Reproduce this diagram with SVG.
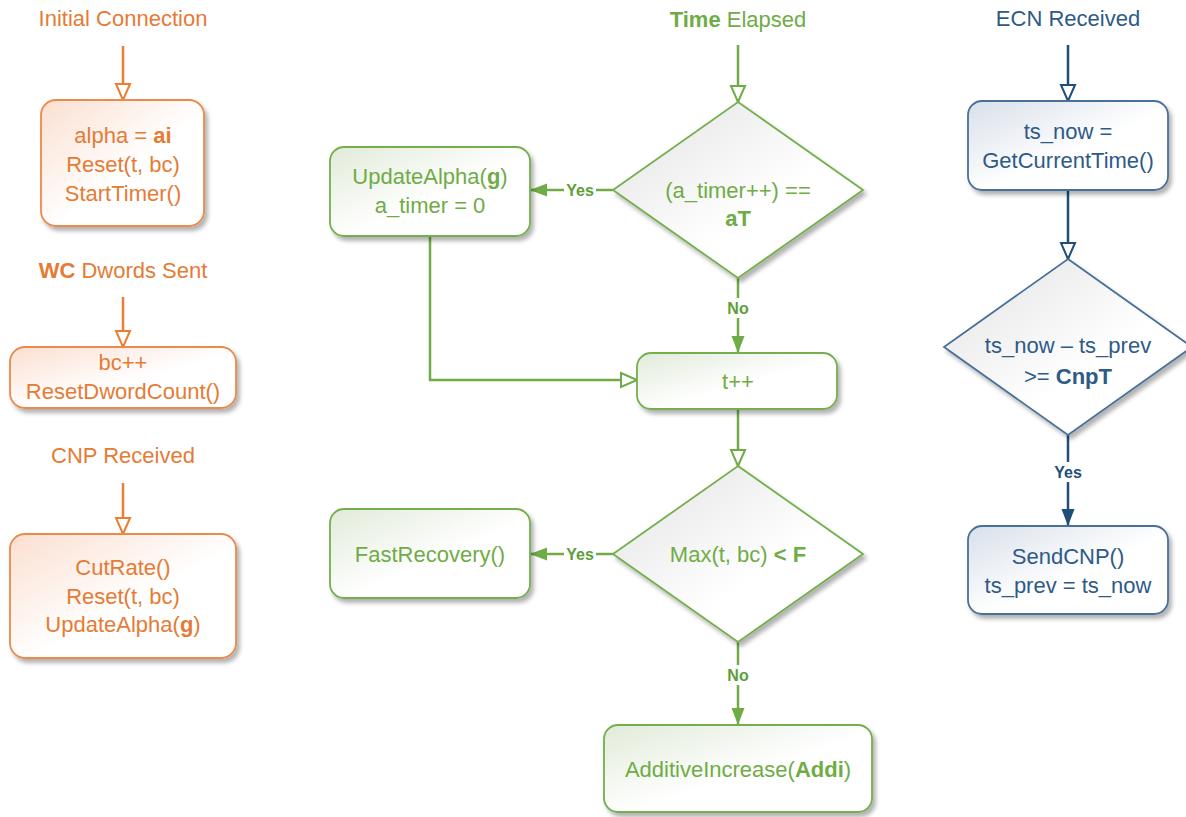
<svg xmlns="http://www.w3.org/2000/svg" width="1186" height="817" viewBox="0 0 1186 817">
  <style>
    text { font-family: "Liberation Sans", Arial, sans-serif; font-size: 22px; text-anchor: middle; }
    .b { font-weight: bold; }
    .lbl { font-size: 16px; font-weight: bold; }
    .or { fill: #E57B35; }
    .gr { fill: #6FAC46; }
    .gl { fill: #5E9E3A; }
    .bl { fill: #2E5A88; }
    .bll { fill: #1F4E79; }
    .box-or { fill: url(#gOr); stroke: #EA8A4E; stroke-width: 1.8; filter: url(#sh); }
    .box-gr { fill: url(#gGr); stroke: #74AE4E; stroke-width: 1.8; filter: url(#sh); }
    .box-bl { fill: url(#gBl); stroke: #4A6F98; stroke-width: 1.8; filter: url(#sh); }
    .dia-gr { fill: url(#gDia); stroke: #74AE4E; stroke-width: 1.8; filter: url(#sh); }
    .dia-bl { fill: url(#gDia); stroke: #4A6F98; stroke-width: 1.8; filter: url(#sh); }
    .ln { fill: none; stroke-width: 2.5; }
    .c-or { stroke: #ED7D31; }
    .c-gr { stroke: #6FAC46; }
    .c-bl { stroke: #1F4E79; }
  </style>
  <defs>
    <linearGradient id="gOr" x1="0" y1="0" x2="1" y2="1">
      <stop offset="0" stop-color="#FBDFD0"/>
      <stop offset="0.55" stop-color="#FFFFFF"/>
      <stop offset="1" stop-color="#FFFFFF"/>
    </linearGradient>
    <linearGradient id="gGr" x1="0" y1="0" x2="1" y2="1">
      <stop offset="0" stop-color="#E1EBD9"/>
      <stop offset="0.55" stop-color="#FFFFFF"/>
      <stop offset="1" stop-color="#FFFFFF"/>
    </linearGradient>
    <linearGradient id="gBl" x1="0" y1="0" x2="1" y2="1">
      <stop offset="0" stop-color="#D8E0EA"/>
      <stop offset="0.55" stop-color="#FFFFFF"/>
      <stop offset="1" stop-color="#FFFFFF"/>
    </linearGradient>
    <linearGradient id="gDia" x1="0" y1="0" x2="1" y2="1">
      <stop offset="0" stop-color="#E2E2E2"/>
      <stop offset="0.6" stop-color="#FFFFFF"/>
      <stop offset="1" stop-color="#FFFFFF"/>
    </linearGradient>
    <filter id="sh" x="-10%" y="-10%" width="125%" height="130%">
      <feDropShadow dx="3" dy="4" stdDeviation="2" flood-color="#000" flood-opacity="0.3"/>
    </filter>
    <!-- hollow heads -->
    <marker id="hOr" markerUnits="userSpaceOnUse" markerWidth="20" markerHeight="20" viewBox="0 0 20 20" refX="18" refY="10" orient="auto">
      <path d="M2,3 L18,10 L2,17 Z" fill="#fff" stroke="#ED7D31" stroke-width="2"/>
    </marker>
    <marker id="hGr" markerUnits="userSpaceOnUse" markerWidth="20" markerHeight="20" viewBox="0 0 20 20" refX="18" refY="10" orient="auto">
      <path d="M2,3 L18,10 L2,17 Z" fill="#fff" stroke="#6FAC46" stroke-width="2"/>
    </marker>
    <marker id="hBl" markerUnits="userSpaceOnUse" markerWidth="20" markerHeight="20" viewBox="0 0 20 20" refX="18" refY="10" orient="auto">
      <path d="M2,3 L18,10 L2,17 Z" fill="#fff" stroke="#1F4E79" stroke-width="2"/>
    </marker>
    <!-- filled heads -->
    <marker id="fGr" markerUnits="userSpaceOnUse" markerWidth="20" markerHeight="20" viewBox="0 0 20 20" refX="18" refY="10" orient="auto">
      <path d="M1,3.5 L18,10 L1,16.5 Z" fill="#6FAC46"/>
    </marker>
    <marker id="fBl" markerUnits="userSpaceOnUse" markerWidth="20" markerHeight="20" viewBox="0 0 20 20" refX="18" refY="10" orient="auto">
      <path d="M1,3.5 L18,10 L1,16.5 Z" fill="#1F4E79"/>
    </marker>
  </defs>

  <rect width="1186" height="817" fill="#fff"/>

  <!-- connectors -->
  <g id="connectors">
    <path class="ln c-or" d="M123,46 V100" marker-end="url(#hOr)"/>
    <path class="ln c-or" d="M123,297 V347" marker-end="url(#hOr)"/>
    <path class="ln c-or" d="M123,483 V534" marker-end="url(#hOr)"/>

    <path class="ln c-gr" d="M738,45 V102" marker-end="url(#hGr)"/>
    <path class="ln c-gr" d="M613,190 H530" marker-end="url(#fGr)"/>
    <path class="ln c-gr" d="M738,278 V353" marker-end="url(#fGr)"/>
    <path class="ln c-gr" d="M430,236 V380 H637" marker-end="url(#hGr)"/>
    <path class="ln c-gr" d="M738,409 V466" marker-end="url(#hGr)"/>
    <path class="ln c-gr" d="M613,554 H530" marker-end="url(#fGr)"/>
    <path class="ln c-gr" d="M738,642 V725" marker-end="url(#fGr)"/>

    <path class="ln c-bl" d="M1068,45 V101" marker-end="url(#hBl)"/>
    <path class="ln c-bl" d="M1068,190 V259" marker-end="url(#hBl)"/>
    <path class="ln c-bl" d="M1068,435 V526" marker-end="url(#fBl)"/>

    <!-- branch labels -->
    <rect x="564" y="181" width="32" height="18" fill="#fff"/>
    <text class="lbl gl" x="580" y="196">Yes</text>
    <rect x="564" y="545" width="32" height="18" fill="#fff"/>
    <text class="lbl gl" x="580" y="560">Yes</text>
    <rect x="724" y="298" width="28" height="20" fill="#fff"/>
    <text class="lbl gl" x="738" y="314">No</text>
    <rect x="724" y="665" width="28" height="20" fill="#fff"/>
    <text class="lbl gl" x="738" y="681">No</text>
    <rect x="1052" y="462" width="32" height="20" fill="#fff"/>
    <text class="lbl bll" x="1068" y="478">Yes</text>
  </g>

  <!-- event titles -->
  <g id="title-init"><text class="or" x="123" y="26">Initial Connection</text></g>
  <g id="title-wc"><text class="or" x="123" y="278"><tspan class="b">WC</tspan> Dwords Sent</text></g>
  <g id="title-cnp"><text class="or" x="123" y="463">CNP Received</text></g>
  <g id="title-time"><text class="gr" x="738" y="27"><tspan class="b">Time</tspan> Elapsed</text></g>
  <g id="title-ecn"><text class="bl" x="1068" y="26">ECN Received</text></g>

  <!-- orange column -->
  <g id="init-box">
    <rect class="box-or" x="41" y="100" width="163" height="126" rx="15"/>
    <text class="or" x="123" y="143">alpha = <tspan class="b">ai</tspan></text>
    <text class="or" x="123" y="172">Reset(t, bc)</text>
    <text class="or" x="123" y="201">StartTimer()</text>
  </g>
  <g id="wc-box">
    <rect class="box-or" x="10" y="347" width="226" height="61" rx="15"/>
    <text class="or" x="123" y="370">bc++</text>
    <text class="or" x="123" y="399">ResetDwordCount()</text>
  </g>
  <g id="cnp-box">
    <rect class="box-or" x="10" y="534" width="226" height="124" rx="15"/>
    <text class="or" x="123" y="575">CutRate()</text>
    <text class="or" x="123" y="604">Reset(t, bc)</text>
    <text class="or" x="123" y="632">UpdateAlpha(<tspan class="b">g</tspan>)</text>
  </g>

  <!-- green column -->
  <g id="timer-check">
    <path class="dia-gr" d="M738,102 L863,190 L738,278 L613,190 Z"/>
    <text class="gr" x="738" y="198">(a_timer++) ==</text>
    <text class="gr b" x="738" y="226">aT</text>
  </g>
  <g id="update-alpha">
    <rect class="box-gr" x="330" y="147" width="200" height="89" rx="14"/>
    <text class="gr" x="430" y="184">UpdateAlpha(<tspan class="b">g</tspan>)</text>
    <text class="gr" x="430" y="213">a_timer = 0</text>
  </g>
  <g id="t-inc">
    <rect class="box-gr" x="637" y="353" width="200" height="56" rx="14"/>
    <text class="gr" x="738" y="389">t++</text>
  </g>
  <g id="max-check">
    <path class="dia-gr" d="M738,466 L863,554 L738,642 L613,554 Z"/>
    <text class="gr" x="738" y="562">Max(t, bc) <tspan class="b">&lt; F</tspan></text>
  </g>
  <g id="fast-recovery">
    <rect class="box-gr" x="330" y="509" width="200" height="89" rx="14"/>
    <text class="gr" x="430" y="562">FastRecovery()</text>
  </g>
  <g id="additive-increase">
    <rect class="box-gr" x="604" y="725" width="268" height="87" rx="14"/>
    <text class="gr" x="738" y="777">AdditiveIncrease(<tspan class="b">Addi</tspan>)</text>
  </g>

  <!-- blue column -->
  <g id="now-box">
    <rect class="box-bl" x="968" y="101" width="200" height="89" rx="14"/>
    <text class="bl" x="1068" y="139">ts_now =</text>
    <text class="bl" x="1068" y="168">GetCurrentTime()</text>
  </g>
  <g id="cnp-interval-check">
    <path class="dia-bl" d="M1068,259 L1192,347 L1068,435 L944,347 Z"/>
    <text class="bl" x="1068" y="353">ts_now – ts_prev</text>
    <text class="bl" x="1068" y="384">&gt;= <tspan class="b">CnpT</tspan></text>
  </g>
  <g id="send-cnp">
    <rect class="box-bl" x="968" y="526" width="200" height="88" rx="14"/>
    <text class="bl" x="1068" y="564">SendCNP()</text>
    <text class="bl" x="1068" y="593">ts_prev = ts_now</text>
  </g>
</svg>
